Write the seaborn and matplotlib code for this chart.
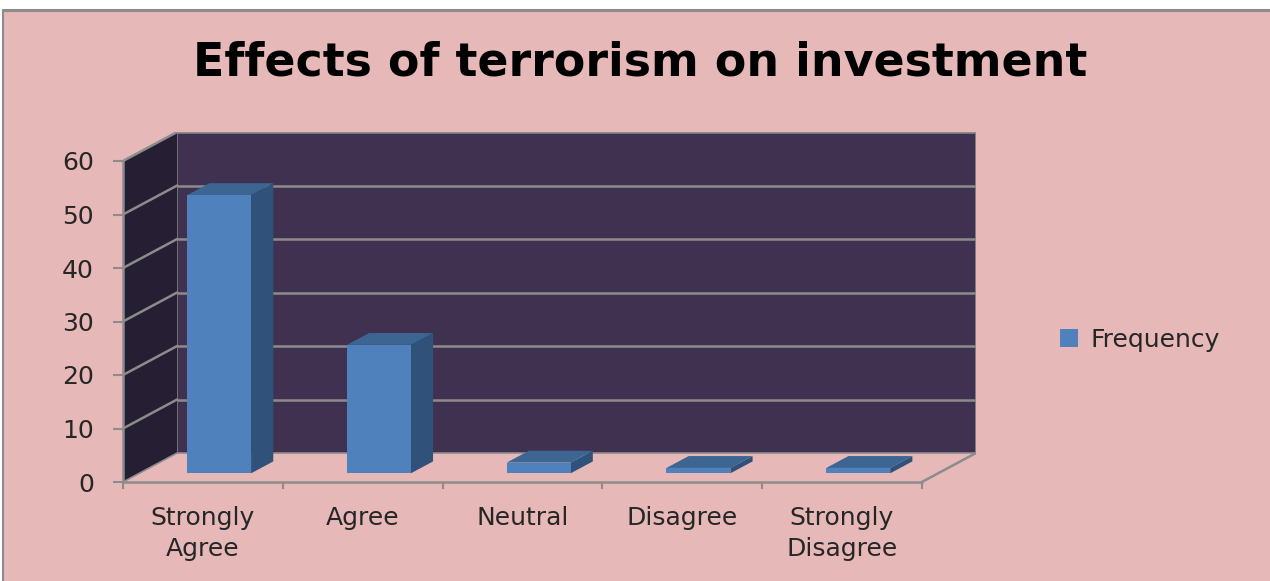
import numpy as np
import pandas as pd
import matplotlib
matplotlib.use("Agg")
import matplotlib.pyplot as plt
from matplotlib.patches import Polygon, Rectangle
from matplotlib.lines import Line2D
import seaborn as sns

# ---- data ----
categories = ["Strongly\nAgree", "Agree", "Neutral", "Disagree", "Strongly\nDisagree"]
frequency = [52, 24, 2, 1, 1]
yticks = [0, 10, 20, 30, 40, 50, 60]
title = "Effects of terrorism on investment"
series_name = "Frequency"

df = pd.DataFrame({"Response": categories, "Frequency": frequency})

# ---- style ----
sns.set_style("white")
plt.rcParams["font.family"] = ["DejaVu Sans"]

PINK = "#E6B8B7"
WALL = "#403151"
SIDEWALL = "#261F33"
GRID = "#8C8C8C"
FRONT = "#4F81BD"
SIDE = "#30527A"
TOP = "#3C6591"

W, H = 1270, 581
fig = plt.figure(figsize=(W / 100, H / 100), dpi=100, facecolor="white")
fig.patches.append(Rectangle((3 / W, -0.05), 1.2, (H - 10) / H + 0.05,
                             transform=fig.transFigure, facecolor=PINK,
                             edgecolor="none", zorder=-10))
fig.lines.append(Line2D([3 / W, 1.0], [(H - 10) / H] * 2, transform=fig.transFigure,
                        color="#8C8C8C", lw=2.2))
fig.lines.append(Line2D([3 / W, 3 / W], [0, (H - 10) / H], transform=fig.transFigure,
                        color="#8C8C8C", lw=1.5))

# axes spans front plane + depth offset
left_px, right_px, bottom_px, top_px = 123, 976, 482, 132
ax = fig.add_axes([left_px / W, 1 - bottom_px / H,
                   (right_px - left_px) / W, (bottom_px - top_px) / H])
ax.set_facecolor("none")

DX = 54 / 159.4          # depth offset in category units
DY = 29 / 5.35           # depth offset in value units
ymax = max(yticks)
x0 = -0.5
x1 = len(categories) - 0.5

# back wall
ax.add_patch(Polygon([(x0 + DX, DY), (x1 + DX, DY), (x1 + DX, ymax + DY), (x0 + DX, ymax + DY)],
                     closed=True, facecolor=WALL, edgecolor=GRID, lw=1.2, zorder=1))
# side wall
ax.add_patch(Polygon([(x0, 0), (x0 + DX, DY), (x0 + DX, ymax + DY), (x0, ymax)],
                     closed=True, facecolor=SIDEWALL, edgecolor="none", zorder=1))
# gridlines on walls
for v in yticks[1:]:
    ax.plot([x0 + DX, x1 + DX], [v + DY, v + DY], color=GRID, lw=1.8, zorder=2, solid_capstyle="butt")
    ax.plot([x0, x0 + DX], [v, v + DY], color=GRID, lw=1.8, zorder=2)
# floor edges
ax.plot([x1, x1 + DX], [0, DY], color=GRID, lw=1.8, zorder=2)
ax.plot([x0, x0 + DX], [0, DY], color=GRID, lw=1.2, zorder=2)

# ---- bars ----
sns.barplot(data=df, x="Response", y="Frequency", color=FRONT, saturation=1,
            width=0.4, ax=ax, label=series_name, zorder=4, edgecolor="none")

f0, f1 = 0.30, 0.71
for cont in ax.containers:
    for p in cont.patches:
        xl = p.get_x() + f0 * DX
        yb = f0 * DY
        h = p.get_height()
        w = p.get_width()
        p.set_x(xl)
        p.set_y(yb)
        xr = xl + w
        yt = yb + h
        ddx = (f1 - f0) * DX
        ddy = (f1 - f0) * DY
        ax.add_patch(Polygon([(xr, yb), (xr, yt), (xr + ddx, yt + ddy), (xr + ddx, yb + ddy)],
                             closed=True, facecolor=SIDE, edgecolor="none", zorder=3.9))
        ax.add_patch(Polygon([(xl, yt), (xr, yt), (xr + ddx, yt + ddy), (xl + ddx, yt + ddy)],
                             closed=True, facecolor=TOP, edgecolor="none", zorder=3.9))

# limits after seaborn (it resets them)
ax.set_xlim(x0, x1 + DX)
ax.set_ylim(0, ymax + DY)

# ---- axes styling ----
ax.set_xlabel("")
ax.set_ylabel("")
for s in ["top", "right"]:
    ax.spines[s].set_visible(False)
ax.spines["left"].set_bounds(0, ymax)
ax.spines["bottom"].set_bounds(x0, x1)
for s in ["left", "bottom"]:
    ax.spines[s].set_color(GRID)
    ax.spines[s].set_linewidth(1.8)
    ax.spines[s].set_zorder(2.5)

ax.set_yticks(yticks)
ax.set_yticklabels([str(v) for v in yticks])
ax.tick_params(axis="y", direction="out", length=7, width=1.5, color=GRID,
               pad=14, labelsize=18, labelcolor="#262626", left=True)
ax.set_xticks(range(len(categories)))
ax.set_xticklabels(categories, linespacing=1.4)
ax.tick_params(axis="x", which="major", length=0, pad=17, labelsize=18, labelcolor="#262626")
ax.set_xticks(np.arange(len(categories) + 1) - 0.5, minor=True)
ax.tick_params(axis="x", which="minor", direction="out", length=5, width=1.5,
               color=GRID, bottom=True)

# legend
ax.legend(loc="center left", bbox_to_anchor=(1047 / W, 1 - 340 / H),
          bbox_transform=fig.transFigure, frameon=False, fontsize=18,
          handlelength=0.75, handleheight=0.75, handletextpad=0.5, borderpad=0,
          labelcolor="#262626")

fig.text(640 / W, 1 - 76 / H, title, ha="center", va="baseline",
         fontsize=33, fontweight="bold", color="black")

fig.savefig("out.png", dpi=100, facecolor=fig.get_facecolor())
